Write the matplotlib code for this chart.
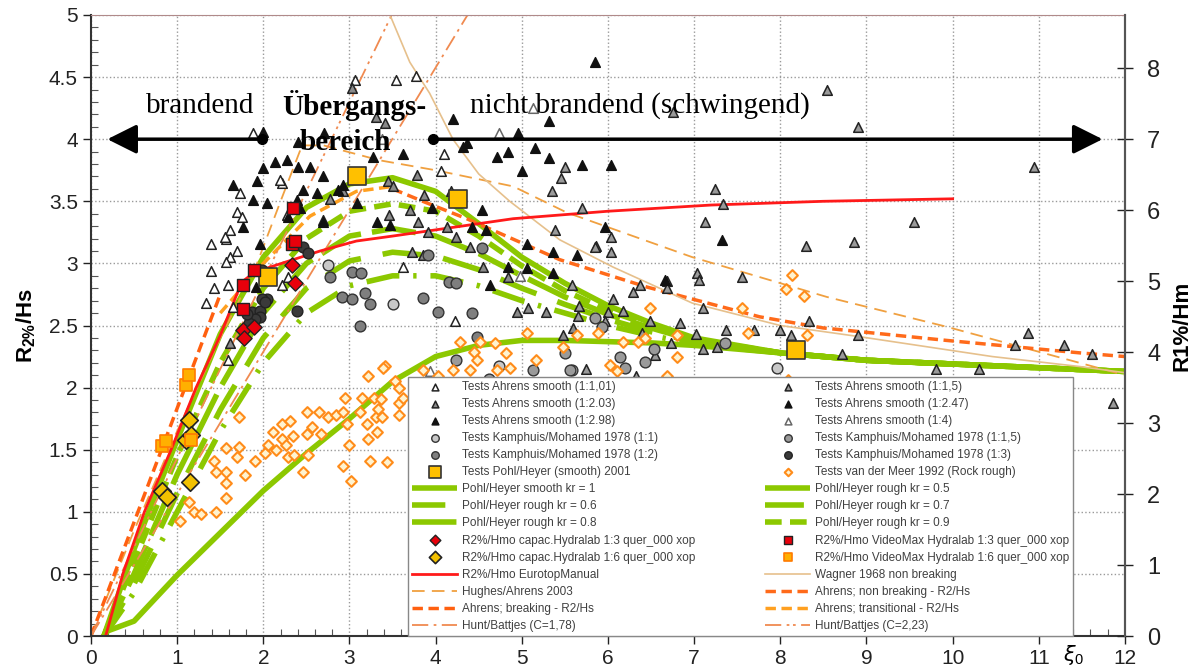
import matplotlib
matplotlib.use("Agg")
import matplotlib.pyplot as plt

plt.rcParams['font.family'] = ['Liberation Sans', 'DejaVu Sans']
plt.rcParams['mathtext.fontset'] = 'custom'
plt.rcParams['mathtext.rm'] = 'Liberation Sans'
plt.rcParams['mathtext.bf'] = 'Liberation Sans:bold'

# ---- measured points (xi0, R/H) ----
ahrens_101 = [(1.88, 4.05), (2.22, 3.65), (1.73, 3.57), (1.69, 3.41), (1.75, 3.37), (1.61, 3.27), (1.57, 3.2),
              (1.39, 3.16), (1.69, 3.1), (1.61, 3.05), (1.57, 3.01), (1.39, 2.94), (1.43, 2.8), (1.59, 2.83),
              (1.33, 2.68), (1.65, 2.65), (1.59, 2.22), (2.22, 2.83), (2.29, 2.89), (1.55, 3.21), (2.19, 3.67),
              (2.27, 3.39), (3.06, 4.48), (3.54, 4.48), (3.77, 4.51), (4.06, 3.74), (4.1, 3.88), (3.62, 2.97),
              (4.22, 2.54)]
ahrens_203 = [(3.03, 4.41), (3.31, 4.18), (3.41, 4.13), (3.45, 3.66), (3.5, 3.62), (3.78, 3.71), (3.87, 3.55),
              (3.7, 3.43), (4.18, 3.58), (3.46, 3.39), (3.79, 3.33), (4.13, 3.29), (4.24, 3.21), (3.91, 3.25),
              (3.72, 3.09), (3.85, 3.07), (4.4, 3.13), (4.55, 2.97), (4.84, 2.89), (2.69, 3.35), (2.77, 3.52),
              (2.92, 3.58), (1.61, 2.36), (4.94, 2.61), (5.07, 2.64), (5.28, 2.61), (5.48, 2.42), (5.59, 2.48)]
ahrens_298 = [(2.0, 4.06), (1.65, 3.63), (1.93, 3.66), (2.13, 3.82), (2.27, 3.83), (2.4, 3.98), (2.0, 3.77),
              (1.88, 3.51), (2.04, 3.49), (1.76, 3.29), (1.96, 3.16), (2.4, 3.78), (2.54, 3.78), (2.69, 3.7),
              (2.46, 3.59), (2.39, 3.51), (2.62, 3.57), (2.42, 3.45), (2.29, 3.37), (2.71, 4.05), (2.92, 3.63),
              (2.87, 3.59), (2.69, 3.33), (3.09, 3.49), (3.27, 3.86), (3.32, 3.33), (3.47, 3.31), (1.92, 2.81)]
ahrens_15 = [(5.7, 3.45), (7.24, 3.6), (7.33, 3.48), (7.13, 3.33), (5.86, 3.14), (6.04, 3.21), (6.04, 3.09),
             (8.3, 3.14), (8.86, 3.17), (9.55, 3.33), (7.55, 2.89), (7.03, 2.92), (7.06, 2.87), (6.68, 2.86),
             (6.68, 2.8), (6.37, 2.83), (6.29, 2.77), (6.06, 2.71), (5.58, 2.83), (5.66, 2.66), (5.65, 2.58),
             (6.0, 2.61), (6.17, 2.62), (5.96, 2.54), (6.49, 2.54), (6.84, 2.52), (7.1, 2.64), (8.33, 2.54),
             (7.02, 2.43), (7.37, 2.46), (7.7, 2.46), (8.0, 2.46), (8.13, 2.42), (8.9, 2.42), (10.88, 2.44),
             (6.4, 2.44), (6.73, 2.36), (7.1, 2.31), (7.26, 2.33), (8.72, 2.27), (9.81, 2.15), (10.31, 2.15),
             (10.72, 2.34), (11.29, 2.34), (11.62, 2.27), (5.75, 2.15), (6.33, 2.09), (6.55, 2.26), (10.95, 3.78),
             (8.54, 4.4), (8.9, 4.1), (6.75, 4.22), (11.86, 1.88), (5.5, 3.78), (5.46, 3.69), (5.35, 3.58),
             (5.38, 3.27), (5.85, 3.13)]
ahrens_247 = [(4.2, 4.16), (4.36, 3.97), (4.71, 3.86), (4.84, 3.9), (4.95, 4.05), (5.15, 3.93), (5.32, 4.15),
              (5.32, 3.85), (5.0, 3.74), (5.7, 3.79), (6.04, 3.79), (5.85, 4.62), (3.96, 3.45), (4.54, 3.43),
              (4.42, 3.29), (4.59, 3.27), (5.06, 3.16), (5.36, 3.09), (5.64, 3.07), (5.96, 3.29), (4.84, 2.97),
              (5.36, 2.92), (4.63, 2.83), (5.06, 2.96), (6.66, 2.87), (7.32, 3.19), (4.32, 3.94), (3.62, 3.88)]
ahrens_14 = [(4.74, 4.05), (5.13, 4.25), (3.93, 2.13), (4.98, 2.9), (3.38, 4.0)]

kamphuis_11 = [(2.75, 2.99), (3.5, 2.67), (5.58, 2.14), (7.96, 2.16), (4.74, 2.17)]
kamphuis_12 = [(3.03, 2.93), (3.13, 2.92), (2.77, 2.89), (3.18, 2.76), (2.91, 2.73), (3.03, 2.71), (3.24, 2.67),
               (3.85, 2.72), (3.12, 2.5), (4.03, 2.61), (4.42, 2.6), (4.16, 2.85), (4.24, 2.84), (3.91, 3.07),
               (4.48, 2.41), (4.54, 3.12)]
kamphuis_115 = [(5.85, 2.56), (5.93, 2.49), (6.54, 2.31), (6.43, 2.21), (6.14, 2.25), (6.2, 2.16), (7.36, 2.36),
                (5.5, 2.28), (4.24, 2.22), (5.13, 2.14), (5.56, 2.14), (4.28, 2.04), (4.62, 2.07)]
kamphuis_13 = [(2.46, 3.13), (2.52, 3.08), (2.04, 2.71), (1.98, 2.71), (2.39, 2.62), (1.87, 2.61), (1.96, 2.62),
               (1.96, 2.57), (1.9, 2.55), (1.83, 2.52), (1.81, 2.59), (2.02, 2.69), (1.98, 2.95)]

pohl_2001 = [(2.06, 2.89), (3.09, 3.7), (4.26, 3.52), (8.18, 2.3)]

vdmeer_1992 = [(1.03, 0.93), (1.14, 1.08), (1.2, 1.0), (1.28, 0.98), (1.45, 1.0), (1.57, 1.11), (1.57, 1.23),
               (1.57, 1.32), (1.45, 1.32), (1.43, 1.41), (1.57, 1.51), (1.69, 1.44), (1.72, 1.52), (1.79, 1.3),
               (1.72, 1.76), (1.9, 1.41), (2.02, 1.47), (2.05, 1.54), (2.15, 1.5), (2.11, 1.64), (2.22, 1.59),
               (2.26, 1.54), (2.22, 1.71), (2.31, 1.73), (2.29, 1.44), (2.36, 1.46), (2.34, 1.61), (2.46, 1.32),
               (2.52, 1.46), (2.51, 1.63), (2.51, 1.8), (2.56, 1.68), (2.65, 1.8), (2.67, 1.63), (2.75, 1.76),
               (2.84, 1.78), (2.93, 1.8), (2.95, 1.92), (2.93, 1.37), (2.97, 1.71), (3.0, 1.54), (3.02, 1.25),
               (3.12, 1.8), (3.14, 1.92), (3.2, 1.71), (3.22, 1.59), (3.24, 1.41), (3.22, 2.09), (3.28, 1.92),
               (3.31, 1.76), (3.33, 1.83), (3.32, 1.64), (3.37, 1.91), (3.38, 1.76), (3.43, 1.4), (3.41, 2.17),
               (3.53, 2.05), (3.57, 2.0), (3.57, 1.88), (3.58, 1.78), (3.62, 1.92), (4.28, 2.37), (4.51, 2.37),
               (4.69, 2.36), (4.82, 2.28), (4.45, 2.29), (5.06, 2.44), (5.17, 2.22), (5.48, 2.33), (5.64, 2.42),
               (5.88, 2.44), (6.02, 2.18), (6.17, 2.37), (6.35, 2.37), (6.43, 2.4), (6.49, 2.64), (6.8, 2.42),
               (6.8, 2.25), (7.55, 2.64), (7.62, 2.44), (8.14, 2.91), (8.07, 2.79), (8.27, 2.74), (8.31, 2.42),
               (8.09, 2.06), (6.68, 2.09), (4.71, 2.14), (4.86, 2.16), (4.48, 2.22), (4.4, 2.14), (4.2, 2.14),
               (3.85, 2.14), (4.03, 2.09), (3.39, 2.16), (6.1, 2.13)]

capac_13 = [(2.33, 2.99), (2.37, 2.84), (1.76, 2.46), (1.89, 2.49), (1.77, 2.4)]
capac_16 = [(1.14, 1.74), (1.1, 1.58), (1.16, 1.62), (0.82, 1.17), (0.88, 1.12), (1.15, 1.24)]
videomax_13 = [(2.35, 3.45), (2.33, 3.16), (2.37, 3.18), (1.89, 2.95), (1.76, 2.83), (1.76, 2.63)]
videomax_16 = [(1.1, 2.02), (1.14, 2.1), (0.82, 1.53), (0.87, 1.57), (1.16, 1.58)]

# ---- curves ----
xi_grid = [0.15, 0.5, 1.0, 1.5, 2.0, 2.5, 3.0, 3.5, 4.0, 4.5, 5.0, 5.5, 6.0, 6.5, 7.0, 8.0, 9.0, 10.0, 11.0, 12.0]
kr_10 = [0.0, 0.7, 1.58, 2.43, 3.05, 3.45, 3.64, 3.69, 3.58, 3.32, 3.05, 2.84, 2.66, 2.52, 2.4, 2.28, 2.22, 2.19, 2.16, 2.13]
kr_09 = [0.0, 0.6, 1.45, 2.2, 2.8, 3.2, 3.42, 3.48, 3.42, 3.22, 2.98, 2.78, 2.62, 2.5, 2.39, 2.28, 2.22, 2.19, 2.16, 2.13]
kr_08 = [0.0, 0.5, 1.3, 2.0, 2.6, 3.0, 3.22, 3.28, 3.22, 3.08, 2.9, 2.73, 2.59, 2.48, 2.38, 2.28, 2.22, 2.19, 2.16, 2.13]
kr_07 = [0.0, 0.42, 1.15, 1.82, 2.4, 2.8, 3.02, 3.09, 3.06, 2.95, 2.8, 2.67, 2.55, 2.45, 2.37, 2.28, 2.22, 2.19, 2.16, 2.13]
kr_06 = [0.0, 0.35, 1.0, 1.65, 2.2, 2.6, 2.82, 2.9, 2.9, 2.82, 2.7, 2.6, 2.5, 2.42, 2.35, 2.28, 2.22, 2.19, 2.16, 2.13]
kr_05 = [0.03, 0.12, 0.49, 0.83, 1.17, 1.47, 1.75, 2.05, 2.25, 2.34, 2.38, 2.38, 2.37, 2.36, 2.34, 2.28, 2.22, 2.19, 2.16, 2.13]

eurotop_x = [0.17, 0.37, 0.62, 0.93, 1.22, 1.5, 1.75, 1.9, 2.3, 2.66, 3.08, 3.5, 4.0, 4.9, 6.0, 7.2, 8.5, 10.0]
eurotop_y = [0.0, 0.5, 1.0, 1.5, 2.0, 2.42, 2.85, 2.93, 3.02, 3.1, 3.18, 3.22, 3.27, 3.36, 3.42, 3.47, 3.5, 3.52]

hughes_x = [0.0, 0.5, 1.0, 1.5, 1.9, 2.2, 2.45, 2.7, 3.35, 4.0, 4.9, 5.52, 6.98, 8.54, 9.93, 11.47, 12.0]
hughes_y = [0.0, 0.85, 1.65, 2.4, 2.95, 3.5, 3.95, 3.95, 3.83, 3.75, 3.62, 3.41, 3.05, 2.73, 2.49, 2.2, 2.1]

ahrens_brk_x = [0.0, 1.5]
ahrens_brk_y = [0.0, 2.75]
ahrens_tr_x = [1.5, 2.0, 2.54, 3.08, 3.5]
ahrens_tr_y = [2.6, 3.0, 3.38, 3.58, 3.62]
ahrens_nb_x = [3.5, 3.85, 4.36, 5.44, 6.45, 7.76, 8.5, 9.93, 11.47, 12.0]
ahrens_nb_y = [3.6, 3.5, 3.36, 3.03, 2.81, 2.57, 2.48, 2.38, 2.28, 2.25]

hunt_178_x = [0.0, 4.37]
hunt_178_y = [0.0, 5.0]
hunt_223_x = [0.0, 3.49]
hunt_223_y = [0.0, 5.0]

wagner_x = [3.47, 3.7, 3.93, 4.2, 4.5, 4.86, 5.44, 6.06, 6.98, 8.0, 8.92, 10.46, 11.47, 12.0]
wagner_y = [5.0, 4.62, 4.37, 4.0, 3.72, 3.5, 3.19, 2.97, 2.68, 2.5, 2.41, 2.25, 2.17, 2.12]

green = '#8cc800'


def pts(p):
    return [a for a, b in p], [b for a, b in p]


fig = plt.figure(figsize=(12.02, 6.69), dpi=100)
ax = fig.add_axes([0.0757, 0.0493, 0.8602, 0.9283])

h = {}
# curves
h['kr10'], = ax.plot(xi_grid, kr_10, color=green, lw=4, zorder=2, solid_capstyle='butt')
h['kr05'], = ax.plot(xi_grid, kr_05, color=green, lw=4, zorder=2, solid_capstyle='butt')
h['kr09'], = ax.plot(xi_grid, kr_09, color=green, lw=4, ls=(0, (3, 1.5)), zorder=2)
h['kr08'], = ax.plot(xi_grid, kr_08, color=green, lw=4, ls=(0, (8, 2)), zorder=2)
h['kr07'], = ax.plot(xi_grid, kr_07, color=green, lw=4, ls=(0, (7, 4)), zorder=2)
h['kr06'], = ax.plot(xi_grid, kr_06, color=green, lw=4, ls=(0, (6, 2.5, 0.6, 2.5)), zorder=2)
h['euro'], = ax.plot(eurotop_x, eurotop_y, color='#ff1a1a', lw=2, zorder=2.5)
h['hughes'], = ax.plot(hughes_x, hughes_y, color='#f0a040', lw=1.3, ls=(0, (7, 4)), zorder=2.2)
h['brk'], = ax.plot(ahrens_brk_x, ahrens_brk_y, color='#ff6010', lw=2.5, ls=(0, (3, 1.6)), zorder=2.2)
h['tr'], = ax.plot(ahrens_tr_x, ahrens_tr_y, color='#ffa020', lw=2.5, ls=(0, (3, 1.6)), zorder=2.2)
h['nb'], = ax.plot(ahrens_nb_x, ahrens_nb_y, color='#ff6a1a', lw=2.5, ls=(0, (3, 1.6)), zorder=2.2)
h['hunt178'], = ax.plot(hunt_178_x, hunt_178_y, color='#f08a50', lw=1.3, ls=(0, (9, 3, 1.5, 3)), zorder=2.2)
h['hunt223'], = ax.plot(hunt_223_x, hunt_223_y, color='#f08a50', lw=1.3, ls=(0, (9, 3, 1.5, 2, 1.5, 3)), zorder=2.2)
h['wagner'], = ax.plot(wagner_x, wagner_y, color='#e6c08c', lw=1.2, zorder=2.2)

# points
tri = dict(marker='^', s=48, linewidths=1.1, zorder=3)
h['a101'] = ax.scatter(*pts(ahrens_101), facecolor='white', edgecolor='#222222', **tri)
h['a203'] = ax.scatter(*pts(ahrens_203), facecolor='#8a8a8a', edgecolor='#222222', **tri)
h['a298'] = ax.scatter(*pts(ahrens_298), facecolor='#111111', edgecolor='#111111', **tri)
h['a15'] = ax.scatter(*pts(ahrens_15), facecolor='#9a9a9a', edgecolor='#222222', **tri)
h['a247'] = ax.scatter(*pts(ahrens_247), facecolor='#111111', edgecolor='#111111', **tri)
h['a14'] = ax.scatter(*pts(ahrens_14), facecolor='white', edgecolor='#666666', **tri)
circ = dict(marker='o', s=60, linewidths=1.0, zorder=3)
h['k11'] = ax.scatter(*pts(kamphuis_11), facecolor='#c8c8c8', edgecolor='#333333', **circ)
h['k12'] = ax.scatter(*pts(kamphuis_12), facecolor='#7f7f7f', edgecolor='#333333', **circ)
h['k115'] = ax.scatter(*pts(kamphuis_115), facecolor='#9a9a9a', edgecolor='#333333', **circ)
h['k13'] = ax.scatter(*pts(kamphuis_13), facecolor='#3a3a3a', edgecolor='#222222', **circ)
h['vdm'] = ax.scatter(*pts(vdmeer_1992), marker='D', s=30, facecolor='#fff3d0', edgecolor='#ff8c1a',
                      linewidths=1.5, zorder=3)
h['pohl'] = ax.scatter(*pts(pohl_2001), marker='s', s=170, facecolor='#ffc000', edgecolor='#333333',
                       linewidths=1.2, zorder=4)
h['c13'] = ax.scatter(*pts(capac_13), marker='D', s=60, facecolor='#e8000b', edgecolor='#222222',
                      linewidths=1.0, zorder=4)
h['c16'] = ax.scatter(*pts(capac_16), marker='D', s=80, facecolor='#f2c000', edgecolor='#222222',
                      linewidths=1.2, zorder=4)
h['v13'] = ax.scatter(*pts(videomax_13), marker='s', s=70, facecolor='#e8000b', edgecolor='#222222',
                      linewidths=1.0, zorder=4)
h['v16'] = ax.scatter(*pts(videomax_16), marker='s', s=80, facecolor='#ffb000', edgecolor='#ff7a00',
                      linewidths=1.2, zorder=4)

# axes
ax.set_xlim(0, 12)
ax.set_ylim(0, 5)
ax.set_xticks(range(13))
ax.set_xticklabels([str(i) for i in range(13)])
ax.set_xticks([i * 0.2 for i in range(61)], minor=True)
ax.set_yticks([i * 0.5 for i in range(11)])
ax.set_yticklabels(['0', '0.5', '1', '1.5', '2', '2.5', '3', '3.5', '4', '4.5', '5'])
ax.set_yticks([i * 0.1 for i in range(51)], minor=True)
ax.tick_params(which='major', direction='out', length=6, width=1, labelsize=15, colors='#222222')
ax.tick_params(which='minor', direction='in', length=5, width=0.8, colors='#555555')
ax.tick_params(axis='y', which='both', right=False)
ax.grid(True, which='major', color='#9a9a9a', ls=':', lw=1.0)
ax.set_axisbelow(True)
for s in ['left', 'bottom']:
    ax.spines[s].set_color('#333333')
    ax.spines[s].set_linewidth(1.5)
ax.spines['top'].set_color('#b08a8a')
ax.spines['right'].set_color('#666666')
ax.spines['right'].set_linewidth(1.5)

ax.set_ylabel(r'$\mathbf{R_{2\%}/Hs}$', fontsize=16, labelpad=8)

ax2 = ax.twinx()
ax2.set_ylim(0, 8.75)
ax2.set_yticks(range(9))
ax2.tick_params(direction='inout', length=12, width=1, labelsize=17, colors='#222222', pad=10)
ax2.set_ylabel('R1%/Hm', fontsize=16, fontweight='bold', labelpad=8)
for s in ['left', 'top', 'bottom']:
    ax2.spines[s].set_visible(False)
ax2.spines['right'].set_color('#555555')
ax2.spines['right'].set_linewidth(1.5)

ax.text(11.4, -0.15, r'$\xi_0$', fontsize=15, ha='center', va='center', transform=ax.transData)

# annotations
serif = ['Liberation Serif', 'DejaVu Serif']
ax.annotate('', xy=(0.19, 4.0), xytext=(1.98, 4.0), zorder=6,
            arrowprops=dict(arrowstyle='-|>,head_length=0.9,head_width=0.45', mutation_scale=20,
                            lw=2.5, color='k', shrinkA=0, shrinkB=0))
ax.annotate('', xy=(11.74, 4.0), xytext=(3.97, 4.0), zorder=6,
            arrowprops=dict(arrowstyle='-|>,head_length=0.9,head_width=0.45', mutation_scale=20,
                            lw=2.5, color='k', shrinkA=0, shrinkB=0))
ax.plot([1.98, 3.97], [4.0, 4.0], 'o', color='k', ms=7, zorder=6)
ax.text(1.27, 4.27, 'brandend', family=serif, fontsize=21, ha='center', va='center', zorder=7)
ax.text(3.06, 4.27, 'Übergangs-', family=serif, fontsize=21, fontweight='bold', ha='center', va='center', zorder=7)
ax.text(2.95, 3.97, 'bereich', family=serif, fontsize=21, fontweight='bold', ha='center', va='center', zorder=7)
ax.text(6.37, 4.27, 'nicht brandend (schwingend)', family=serif, fontsize=21, ha='center', va='center', zorder=7)

# legend
left_col = [('a101', 'Tests Ahrens smooth (1:1,01)'), ('a203', 'Tests Ahrens smooth (1:2.03)'),
            ('a298', 'Tests Ahrens smooth (1:2.98)'), ('k11', 'Tests Kamphuis/Mohamed 1978 (1:1)'),
            ('k12', 'Tests Kamphuis/Mohamed 1978 (1:2)'), ('pohl', 'Tests Pohl/Heyer (smooth) 2001'),
            ('kr10', 'Pohl/Heyer smooth kr = 1'), ('kr06', 'Pohl/Heyer rough kr = 0.6'),
            ('kr08', 'Pohl/Heyer rough kr = 0.8'), ('c13', 'R2%/Hmo capac.Hydralab 1:3 quer_000 xop'),
            ('c16', 'R2%/Hmo capac.Hydralab 1:6 quer_000 xop'), ('euro', 'R2%/Hmo EurotopManual'),
            ('hughes', 'Hughes/Ahrens 2003'), ('brk', 'Ahrens; breaking - R2/Hs'),
            ('hunt178', 'Hunt/Battjes (C=1,78)')]
right_col = [('a15', 'Tests Ahrens smooth (1:1,5)'), ('a247', 'Tests Ahrens smooth (1:2.47)'),
             ('a14', 'Tests Ahrens smooth (1:4)'), ('k115', 'Tests Kamphuis/Mohamed 1978 (1:1,5)'),
             ('k13', 'Tests Kamphuis/Mohamed 1978 (1:3)'), ('vdm', 'Tests van der Meer 1992 (Rock rough)'),
             ('kr05', 'Pohl/Heyer rough kr = 0.5'), ('kr07', 'Pohl/Heyer rough kr = 0.7'),
             ('kr09', 'Pohl/Heyer rough kr = 0.9'), ('v13', 'R2%/Hmo VideoMax Hydralab 1:3 quer_000 xop'),
             ('v16', 'R2%/Hmo VideoMax Hydralab 1:6 quer_000 xop'), ('wagner', 'Wagner 1968 non breaking'),
             ('nb', 'Ahrens; non breaking - R2/Hs'), ('tr', 'Ahrens; transitional - R2/Hs'),
             ('hunt223', 'Hunt/Battjes (C=2,23)')]
entries = left_col + right_col
leg = ax2.legend([h[k] for k, _ in entries], [t for _, t in entries], ncol=2, loc='lower left',
                 bbox_to_anchor=(0.3066, 0.0, 0.6432, 0.414), mode='expand', fontsize=8.5,
                 frameon=True, fancybox=False, edgecolor='#888888', framealpha=1, handlelength=3.8,
                 handletextpad=0.4, labelspacing=0.43, borderpad=0.35, markerscale=0.7,
                 borderaxespad=0, labelcolor='#404040')
leg.set_zorder(10)
leg.get_frame().set_linewidth(1.0)

fig.savefig('out.png', dpi=100)
